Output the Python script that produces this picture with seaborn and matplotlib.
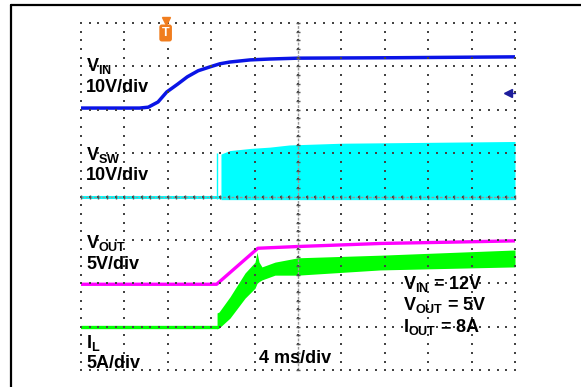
import matplotlib
matplotlib.use("Agg")
import matplotlib.pyplot as plt
from matplotlib.lines import Line2D
import numpy as np
import pandas as pd
import seaborn as sns

# time in ms (4 ms/div, trigger 2 div from left), level in divisions
vin_t = [-8, -2.6, -1.8, -0.9, -0.1, 0.9, 1.8, 2.8, 3.9, 4.8, 5.7, 7.6, 9.4, 12, 21, 32]
vin_v = [6.04, 6.04, 6.06, 6.18, 6.41, 6.59, 6.76, 6.90, 6.99, 7.06, 7.10, 7.15, 7.17, 7.19, 7.20, 7.22]

vsw_base_t = [-8, 32]
vsw_base_v = [4.0, 4.0]
vsw_t = [4.9, 5.7, 7.6, 9.4, 11.2, 16, 24, 32]
vsw_top = [4.98, 5.06, 5.11, 5.14, 5.19, 5.23, 5.25, 5.27]

vout_t = [-8, 4.5, 8.3, 12, 19.6, 26, 32]
vout_v = [1.98, 1.98, 2.81, 2.85, 2.92, 2.95, 2.98]

il_base_t = [-8, 4.55]
il_base_v = [1.0, 1.0]
il_t = [4.54, 4.72, 5.73, 7.12, 8.04, 8.22, 8.41, 8.68, 9.88, 12.0, 19.56, 32]
il_hi = [1.32, 1.34, 1.69, 2.24, 2.49, 2.72, 2.49, 2.38, 2.49, 2.59, 2.65, 2.77]
il_lo = [0.95, 0.97, 1.20, 1.66, 1.89, 2.00, 2.04, 2.08, 2.19, 2.19, 2.31, 2.38]

sns.set_theme(style="white")
plt.rcParams["font.family"] = ["Liberation Sans", "DejaVu Sans"]
plt.rcParams["font.weight"] = "bold"
plt.rcParams["mathtext.fontset"] = "custom"
plt.rcParams["mathtext.rm"] = "Liberation Sans:bold"
plt.rcParams["mathtext.it"] = "Liberation Sans:bold"
plt.rcParams["mathtext.bf"] = "Liberation Sans:bold"

fig = plt.figure(figsize=(5.81, 3.87), dpi=100)
ax = fig.add_axes([81 / 581, 16.8 / 387, 434 / 581, 347.2 / 387])

# traces
ax.fill_between(vsw_t, 3.93, vsw_top, color="#00ffff", lw=0)
ax.vlines(4.5, 3.95, 5.01, color="#00ffff", lw=1)
sns.lineplot(x=vsw_base_t, y=vsw_base_v, color="#00ffff", lw=2.2, ax=ax)
sns.lineplot(x=vin_t, y=vin_v, color="#0a14e6", lw=2.5, ax=ax)
sns.lineplot(x=vout_t, y=vout_v, color="#ff00ff", lw=2.4, ax=ax)
sns.lineplot(x=il_base_t, y=il_base_v, color="#00ff00", lw=2.4, ax=ax)
ax.fill_between(il_t, il_lo, il_hi, color="#00ff00", lw=0)

# graticule
dot = dict(marker="s", s=1.3, color="#444444", linewidths=0, zorder=6, clip_on=False)
for xv in np.arange(-8, 33, 4):
    yy = np.arange(0, 8.01, 0.2)
    ax.scatter(np.full(len(yy), xv), yy, **dot)
for yv in np.arange(0, 9):
    xx = np.arange(-8, 32.01, 0.8)
    ax.scatter(xx, np.full(len(xx), yv), **dot)
ax.axvline(12, color="#999999", lw=1, ls=(0, (2, 1)), zorder=5)
ax.axhline(4, color="#999999", lw=1, ls=(0, (2, 1)), zorder=5)
ax.plot(np.full(41, 12), np.arange(0, 8.01, 0.2), ls="none", marker="_", ms=3.5,
        mew=1, color="#555555", zorder=6, clip_on=False)
ax.plot(np.arange(-8, 32.01, 0.8), np.full(51, 4), ls="none", marker="|", ms=3.5,
        mew=1, color="#555555", zorder=6, clip_on=False)

ax.set_xlim(-8, 32)
ax.set_ylim(0, 8)
ax.axis("off")

# trigger and ground markers
ax.plot([-0.2], [8.05], marker="v", ms=6, color="#f07d1e", clip_on=False, zorder=7)
ax.text(-0.2, 7.77, "T", color="white", fontsize=9, fontweight="bold", ha="center",
        va="center", zorder=7,
        bbox=dict(boxstyle="round,pad=0.2", fc="#f07d1e", ec="none"))
ax.plot([31.3, 32], [6.39, 6.39], color="#1c1c9c", lw=1, clip_on=False)
ax.plot([31.4], [6.39], marker="<", ms=5.5, color="#1c1c9c", clip_on=False)

# labels
fs = 13
lab = dict(fontsize=fs, fontweight="bold", color="black", va="baseline", zorder=8)
ax.text(-7.54, 6.90, r"$V_{IN}$", **lab)
ax.text(-7.54, 6.42, "10V/div", **lab)
ax.text(-7.54, 4.85, r"$V_{SW}$", **lab)
ax.text(-7.54, 4.38, "10V/div", **lab)
ax.text(-7.54, 2.82, r"$V_{OUT}$", **lab)
ax.text(-7.54, 2.33, "5V/div", **lab)
ax.text(-7.54, 0.51, r"$I_{L}$", **lab)
ax.text(-7.54, 0.05, "5A/div", **lab)
ax.text(8.4, 0.17, "4 ms/div", **lab)
ax.text(21.68, 1.87, r"$V_{IN}$ = 12V", **lab)
ax.text(21.68, 1.39, r"$V_{OUT}$ = 5V", **lab)
ax.text(21.68, 0.88, r"$I_{OUT}$ = 8A", **lab)

# outer frame
fig.add_artist(Line2D([11 / 581, 11 / 581], [0, 382 / 387], transform=fig.transFigure,
                      color="black", lw=1.6))
fig.add_artist(Line2D([11 / 581, 1], [382 / 387, 382 / 387], transform=fig.transFigure,
                      color="black", lw=1.6))

fig.savefig("out.png", dpi=100)
